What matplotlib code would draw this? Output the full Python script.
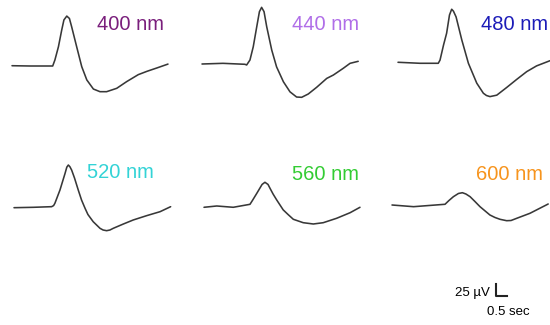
import numpy as np
import matplotlib
matplotlib.use("Agg")
import matplotlib.pyplot as plt

plt.rcParams["font.family"] = ["Liberation Sans", "DejaVu Sans"]

# wavelengths of the six stimuli
labels = ["400 nm", "440 nm", "480 nm", "520 nm", "560 nm", "600 nm"]
label_colors = ["#7a1f7c", "#b06ee8", "#1c1cb8", "#33d3d6", "#33cc33", "#f7941d"]

# traces: time (sec) and response (µV)
t_400 = [0, 0.82, 1.85, 1.95, 2.11, 2.26, 2.36, 2.49, 2.61, 2.71, 2.94, 3.17, 3.4, 3.7, 4.0, 4.3,
         4.76, 5.21, 5.74, 6.14, 6.59, 7.09]
v_400 = [0.6, 0, 0, 12.5, 40, 75, 96, 104, 99, 82, 40, -1.4, -29, -48, -53.5, -53.5,
         -46.5, -32.6, -18, -11, -4, 4]

t_440 = [0, 0.95, 1.95, 2.03, 2.18, 2.33, 2.49, 2.61, 2.71, 2.82, 2.94, 3.17, 3.39, 3.7, 4.0,
         4.3, 4.53, 4.83, 5.21, 5.67, 5.97, 6.42, 6.73, 7.1]
v_440 = [0, 1.4, -0.6, -2, 8.3, 36, 78, 109, 118, 109, 78, 29, -6, -37, -58,
         -68.8, -69.4, -62.5, -48.6, -30, -23, -9, 1.4, 5.6]

t_480 = [0, 1.0, 1.83, 1.91, 2.07, 2.21, 2.34, 2.44, 2.52, 2.64, 2.9, 3.2, 3.58, 3.88, 4.02,
         4.18, 4.49, 4.94, 5.4, 5.85, 6.3, 6.91]
v_480 = [1.5, -0.6, -0.6, 6, 37.5, 62, 100, 112, 108, 96, 48, -0.6, -42, -63, -67.7,
         -70, -67, -51, -34, -18, -6, 4.8]

t_520 = [0, 0.88, 1.71, 1.8, 1.86, 2.09, 2.32, 2.4, 2.47, 2.54, 2.62, 2.75, 2.92, 3.07, 3.23,
         3.36, 3.6, 3.91, 4.05, 4.21, 4.36, 4.51, 4.97, 5.42, 6.03, 6.64, 7.12]
v_520 = [-0.4, 0.4, 1.7, 4, 8.9, 36.5, 71, 84, 88.5, 85, 78, 61.5, 36.5, 15.6, -1.7,
         -14.6, -29.6, -43.4, -46.9, -48.3, -46.9, -43.4, -34.4, -26, -17, -8.7, 1.7]

t_560 = [0, 0.58, 1.33, 2.09, 2.2, 2.4, 2.64, 2.77, 2.91, 3.0, 3.14, 3.3, 3.6, 3.82, 4.06,
         4.51, 4.97, 5.42, 6.03, 6.64, 7.09]
v_560 = [-0.6, 2.1, -0.6, 5.6, 13.5, 28.5, 47, 51.5, 47, 39, 27, 15, -6, -15.6, -25.6,
         -32.7, -35.4, -32.7, -23.5, -11.9, -0.6]

t_600 = [0, 0.98, 2.41, 2.59, 2.79, 3.02, 3.2, 3.36, 3.55, 3.77, 4.0, 4.45, 4.68, 4.91, 5.21,
         5.41, 5.67, 6.27, 7.1]
v_600 = [0, -3.5, 1.5, 9.4, 17.3, 24, 25.6, 22.9, 17.3, 7.3, -3.5, -20.8, -26, -29.8, -32.7,
         -32.3, -27.7, -17.3, 2.1]

times = [t_400, t_440, t_480, t_520, t_560, t_600]
volts = [v_400, v_440, v_480, v_520, v_560, v_600]

# scale bar
bar_uv = 25
bar_sec = 0.5

# layout: pixels per unit
W, H = 550, 325
px_per_sec = 22.0
px_per_uv = 0.48

# trace start (x px) and baseline (y px, from top)
origins = [(12, 66), (202, 64), (398, 63), (14, 207.5), (204, 207), (392, 205)]
label_pos = [(97, 25), (292, 25), (481, 25), (87, 173), (292, 174), (476, 174)]

fig = plt.figure(figsize=(W / 100, H / 100), dpi=100)
ax = fig.add_axes([0, 0, 1, 1])
ax.set_xlim(0, W / px_per_sec)
ax.set_ylim(0, H / px_per_uv)
ax.axis("off")

for t, v, (x0, y0) in zip(times, volts, origins):
    t0 = x0 / px_per_sec
    v0 = (H - y0) / px_per_uv
    ax.plot(np.array(t) + t0, np.array(v) + v0, color="#383838", lw=1.15,
            solid_joinstyle="round", solid_capstyle="round")

for lab, col, (x, y) in zip(labels, label_colors, label_pos):
    fig.text(x / W, 1 - y / H, lab, color=col, fontsize=14.5,
             ha="left", va="center")

# scale bar
cx = 496 / px_per_sec
cy = (H - 296) / px_per_uv
ax.plot([cx, cx, cx + bar_sec], [cy + bar_uv, cy, cy], color="#222222", lw=1.5)
fig.text(490 / W, 1 - 293 / H, "25 µV", fontsize=9.5, ha="right", va="center")
fig.text(487 / W, 1 - 312 / H, "0.5 sec", fontsize=9.5, ha="left", va="center")

fig.savefig("out.png", dpi=100)
